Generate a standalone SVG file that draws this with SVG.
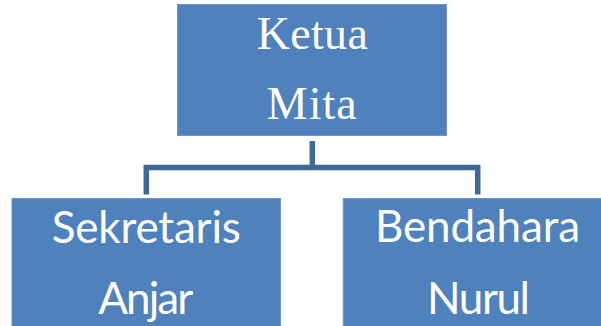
<svg xmlns="http://www.w3.org/2000/svg" width="601" height="326" viewBox="0 0 601 326">
<style>
.box{fill:#4F81BD;stroke:#6F95C8;stroke-width:1}
.serif{font-family:"Liberation Serif","Times New Roman",serif;font-size:46px;fill:#FFFFFF;text-anchor:middle}
.sans{font-family:Lato,"Open Sans",sans-serif;font-size:44px;fill:#FFFFFF;text-anchor:middle}
.conn{fill:none;stroke:#3D6897;stroke-width:5.5;stroke-linejoin:miter}
</style>
<rect width="601" height="326" fill="#FFFFFF"/>
<g id="connectors">
<path class="conn" d="M312.3,141 V167.5"/>
<path class="conn" d="M146.3,194.5 V167.5 H477.7 V194.5"/>
</g>
<g id="ketua">
<rect class="box" x="177.5" y="4.5" width="269" height="131"/>
<text class="serif" x="312.3" y="49" textLength="111">Ketua</text>
<text class="serif" x="311.7" y="119" textLength="90">Mita</text>
</g>
<g id="sekretaris">
<rect class="box" x="12" y="198.5" width="268.5" height="140" stroke="none"/>
<text class="sans" x="146.3" y="242.5" textLength="189">Sekretaris</text>
<text class="sans" x="145.8" y="314" textLength="95">Anjar</text>
</g>
<g id="bendahara">
<rect class="box" x="343.3" y="198.5" width="268.5" height="140" stroke="none"/>
<text class="sans" x="477.5" y="242" textLength="205">Bendahara</text>
<text class="sans" x="478.5" y="314" textLength="103">Nurul</text>
</g>
</svg>
